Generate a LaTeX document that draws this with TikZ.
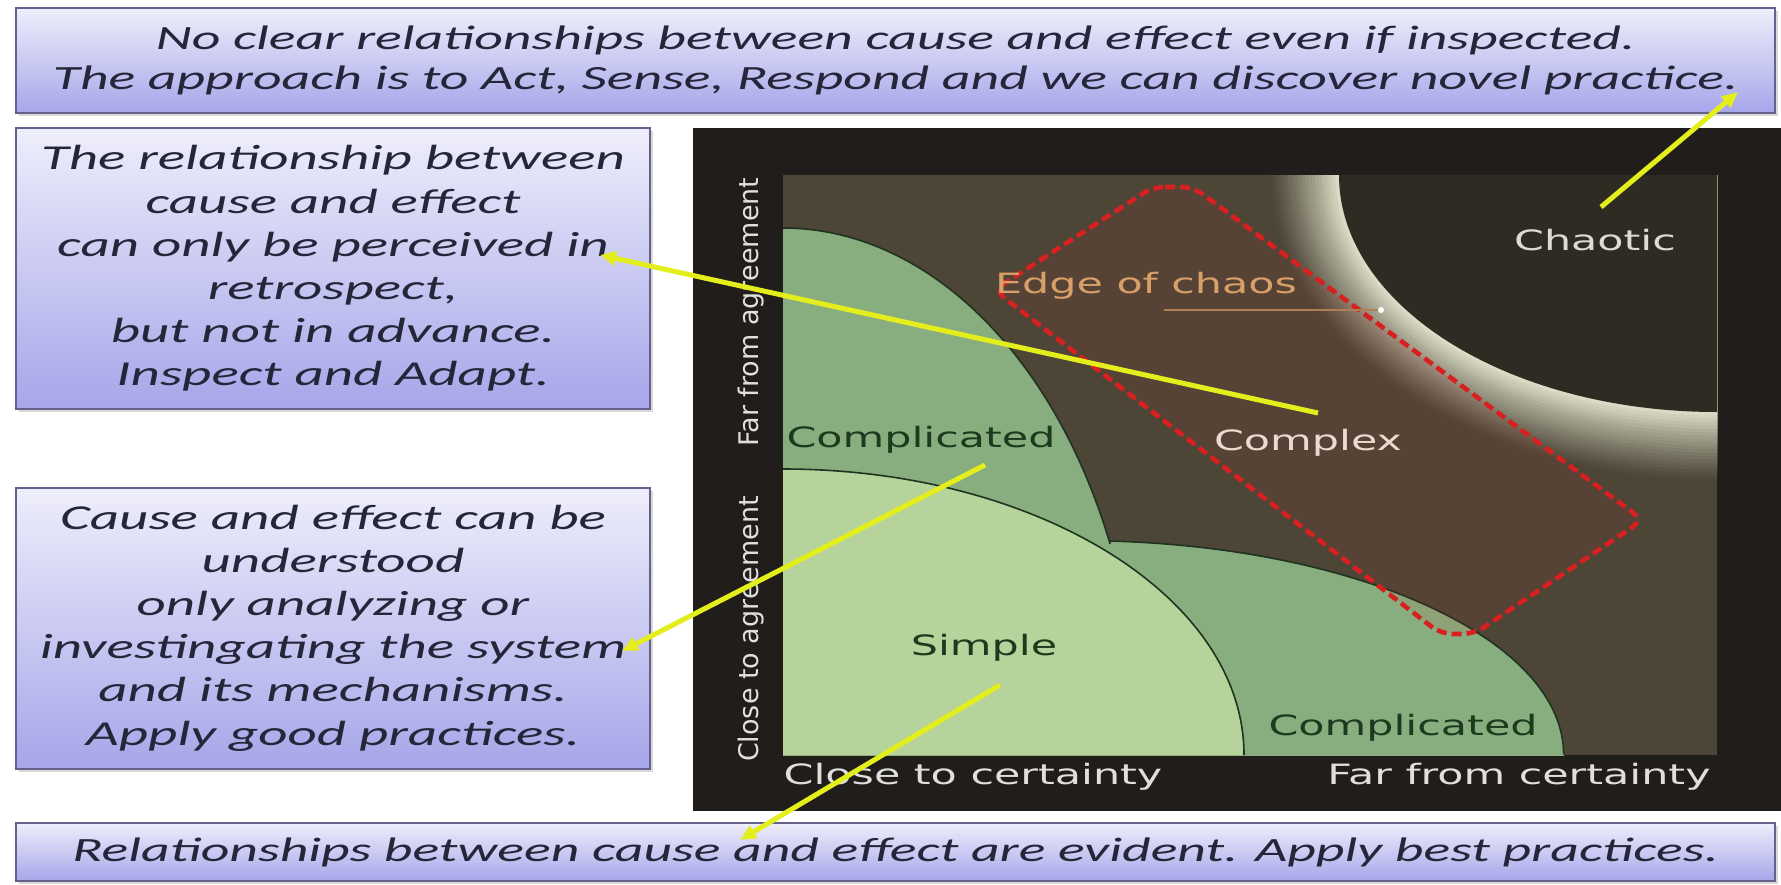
\documentclass[tikz,border=0pt]{standalone}
\usepackage{fontspec}
\setmainfont{Carlito}
\newfontfamily\notefont[FakeStretch=1.64]{Carlito}
\newfontfamily\sidefont[FakeStretch=1.63]{Carlito}
\newfontfamily\chartfont[FakeStretch=1.53]{DejaVu Sans}
\newfontfamily\axisfont{DejaVu Sans}
\usetikzlibrary{arrows.meta,shadows}

\definecolor{framecol}{HTML}{211D1A}
\definecolor{complexcol}{HTML}{4D4637}
\definecolor{chaoscol}{HTML}{2E2C22}
\definecolor{glowcol}{HTML}{E2E4CE}
\definecolor{simplecol}{HTML}{B5D39A}
\definecolor{complicol}{HTML}{88AE80}
\definecolor{bordercol}{HTML}{1F3320}
\definecolor{labelgreen}{HTML}{1E3A1E}
\definecolor{complexlab}{HTML}{EADBD0}
\definecolor{chaoslab}{HTML}{DCDCD4}
\definecolor{edgelab}{HTML}{D8A068}
\definecolor{pointercol}{HTML}{E4EE1C}
\definecolor{edgered}{HTML}{D82020}
\definecolor{boxtop}{HTML}{EEEEFB}
\definecolor{boxbottom}{HTML}{A6A6EA}
\definecolor{boxline}{HTML}{62628C}
\definecolor{notetext}{HTML}{26263A}

\tikzset{
  notebox/.style={draw=boxline, line width=1pt, top color=boxtop, bottom color=boxbottom, inner sep=0pt, align=center, text=notetext, drop shadow={opacity=0.3, shadow xshift=1.5pt, shadow yshift=-1.5pt}},
  widenote/.style={notebox, minimum width=879.5pt, font=\notefont\itshape\fontsize{17}{20}\selectfont},
  sidenote/.style={notebox, minimum width=317pt, minimum height=140.5pt, font=\sidefont\itshape\fontsize{17.5}{21.6}\selectfont},
  regionlabel/.style={font=\chartfont\fontsize{14}{16}\selectfont, inner sep=0pt},
  axislabel/.style={font=\chartfont\fontsize{14}{16}\selectfont, text=gray!25, inner sep=0pt},
  uprightlabel/.style={axislabel, font=\axisfont\fontsize{13.5}{15}\selectfont, rotate=90},
  zoneline/.style={draw=bordercol, line width=0.8pt},
  edgezone/.style={draw=edgered, line width=2.3pt, dash pattern=on 5pt off 2.5pt, rounded corners=6pt, fill=edgered, fill opacity=0.08},
  leader/.style={draw=edgelab!80!black, line width=0.8pt},
  pointer/.style={draw=pointercol, line width=2.5pt, -{Triangle[length=8pt, width=7pt]}}
}

\begin{document}
\begin{tikzpicture}[x=0.5pt, y=-0.5pt]
  \useasboundingbox[fill=white] (0,0) rectangle (1781,884);

  % notes
  \node[widenote, minimum height=52.5pt] (chaosnote) at (895.5,60.5) {No clear relationships between cause and effect even if inspected.\\The approach is to Act, Sense, Respond and we can discover novel practice.};
  \node[sidenote] (complexnote) at (333,268.5) {The relationship between\\cause and effect\\can only be perceived in\\retrospect,\\but not in advance.\\Inspect and Adapt.};
  \node[sidenote] (complnote) at (333,628) {Cause and effect can be\\understood\\only analyzing or\\investingating the system\\and its mechanisms.\\Apply good practices.};
  \node[widenote, minimum height=29pt] (simplenote) at (895.5,852) {Relationships between cause and effect are evident. Apply best practices.};

  % chart
  \fill[framecol] (693,128) rectangle (1781,811);
  \begin{scope}
    \clip (783,175) rectangle (1717,755);
    \fill[complexcol] (783,175) rectangle (1717,755);
    \foreach \i in {20,...,1} {
      \pgfmathtruncatemacro\glowmix{100*(1-\i/21)^1.2}
      \fill[glowcol!\glowmix!complexcol] (1717,175) ellipse [x radius=378+3.4*\i, y radius=237+3.4*\i];
    }
    \fill[chaoscol] (1717,175) ellipse [x radius=378, y radius=237];
    \fill[complicol] (783,755) -- (1140,755) arc[start angle=0, end angle=-90, x radius=357, y radius=527] -- cycle;
    \fill[complicol] (1080,755) ellipse [x radius=484, y radius=214];
    \fill[simplecol] (783,755) -- (1244,755) arc[start angle=0, end angle=-90, x radius=461, y radius=286] -- cycle;
    \draw[zoneline] (783,228) arc[start angle=-90, end angle=-23.6, x radius=357, y radius=527];
    \draw[zoneline] (1110,541) arc[start angle=-86.4, end angle=0, x radius=484, y radius=214];
    \draw[zoneline] (1244,755) arc[start angle=0, end angle=-90, x radius=461, y radius=286];
  \end{scope}
  \draw[edgezone] (1153,187) -- (1193,187) -- (1643,520) -- (1474,634) -- (1441,634) -- (994,290) -- cycle;

  \node[regionlabel, text=labelgreen] (complupper) at (921,440) {Complicated};
  \node[regionlabel, text=labelgreen] (compllower) at (1403,728) {Complicated};
  \node[regionlabel, text=labelgreen] (simple) at (984,648) {Simple};
  \node[regionlabel, text=complexlab] (complex) at (1308,443) {Complex};
  \node[regionlabel, text=chaoslab] (chaotic) at (1595,240) {Chaotic};
  \node[regionlabel, text=edgelab] (edge) at (1146,286) {Edge of chaos};
  \coordinate (edgedot) at (1381,310);
  \draw[leader] ([xshift=9pt]edge.south |- edgedot) -- (edgedot);
  \fill[white] (edgedot) circle [radius=3];

  \node[axislabel] (closecert) at (973,777) {Close to certainty};
  \node[axislabel] (farcert) at (1519,777) {Far from certainty};
  \node[uprightlabel] (closeagree) at (751,629) {Close to agreement};
  \node[uprightlabel] (faragree) at (751,312) {Far from agreement};

  % pointers
  \coordinate (chaosfoot) at (1601,207);
  \coordinate (practicetip) at (1738,92);
  \coordinate (complexfoot) at (1318,413);
  \coordinate (retrotip) at (600,255);
  \coordinate (complfoot) at (985,465);
  \coordinate (systemtip) at (622,651);
  \coordinate (simplefoot) at (1000,685);
  \coordinate (causetip) at (740,840);
  \draw[pointer] (chaosfoot) -- (practicetip);
  \draw[pointer] (complexfoot) -- (retrotip);
  \draw[pointer] (complfoot) -- (systemtip);
  \draw[pointer] (simplefoot) -- (causetip);
\end{tikzpicture}
\end{document}
